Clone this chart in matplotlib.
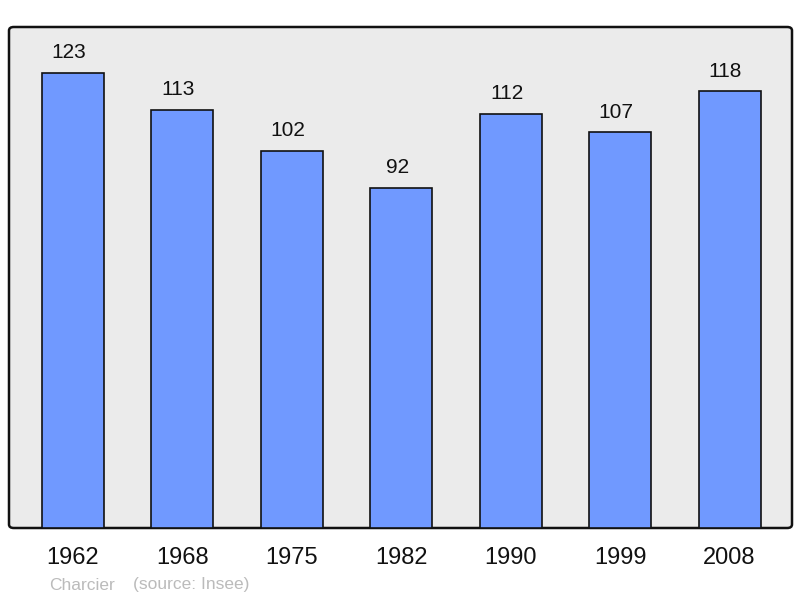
import matplotlib
matplotlib.use("Agg")
import matplotlib.pyplot as plt
from matplotlib.patches import FancyBboxPatch

years = ["1962", "1968", "1975", "1982", "1990", "1999", "2008"]
population = [123, 113, 102, 92, 112, 107, 118]

plt.rcParams['font.family'] = ['Liberation Sans', 'DejaVu Sans']

fig = plt.figure(figsize=(8, 5.98), dpi=100)
L, R, T, B = 9/800, 792/800, 1-27/598, 1-528/598
ax = fig.add_axes([L, B, R-L, T-B])
ax.set_facecolor('none')
ax.set_zorder(2)

frame = FancyBboxPatch((L, B), R-L, T-B, boxstyle="round,pad=0,rounding_size=0.006",
                       transform=fig.transFigure, facecolor='#ebebeb', edgecolor='#111111',
                       linewidth=1.8, zorder=-1)
fig.patches.append(frame)

x = list(range(len(years)))
ax.bar(x, population, width=0.567, color='#7099ff', edgecolor='#111111', linewidth=1.2, zorder=2)
for xi, v in zip(x, population):
    ax.annotate(str(v), (xi, v), xytext=(-3, 7.5), textcoords='offset points',
                ha='center', va='bottom', fontsize=15, color='#111111')

ax.set_xlim(-0.585, 6.571)
ax.set_ylim(0, 135.4)
for s in ax.spines.values():
    s.set_visible(False)
ax.set_yticks([])
ax.set_xticks(x)
ax.set_xticklabels(years, fontsize=17, color='#111111')
ax.tick_params(axis='x', length=0, pad=14)

fig.text(49/800, 1-585/598, "Charcier", fontsize=12.5, color='#bbbbbb', va='center', ha='left')
fig.text(133/800, 1-585/598, "(source: Insee)", fontsize=12.5, color='#bbbbbb', va='center', ha='left')

fig.savefig("out.png", dpi=100)
